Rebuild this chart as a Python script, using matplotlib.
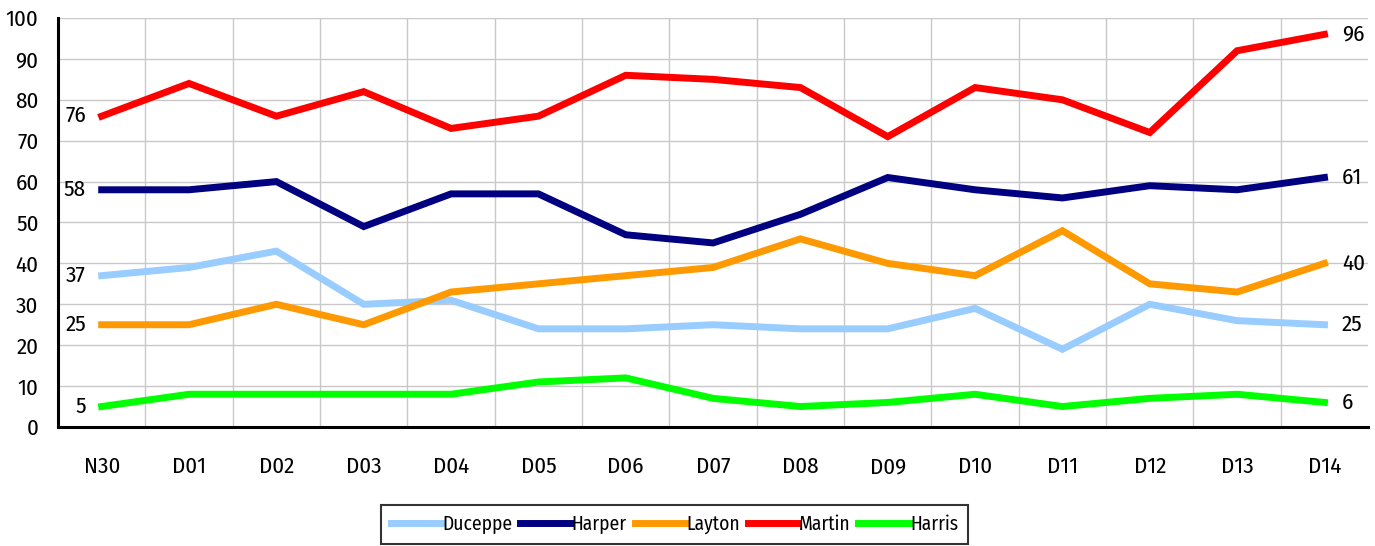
import matplotlib
matplotlib.use("Agg")
import matplotlib.pyplot as plt

plt.rcParams['font.family'] = ['Fira Sans Condensed', 'PT Sans Narrow', 'Archivo Narrow', 'DejaVu Sans']

# Poll dates
dates = ["N30", "D01", "D02", "D03", "D04", "D05", "D06", "D07",
         "D08", "D09", "D10", "D11", "D12", "D13", "D14"]

duceppe = [37, 39, 43, 30, 31, 24, 24, 25, 24, 24, 29, 19, 30, 26, 25]
harper = [58, 58, 60, 49, 57, 57, 47, 45, 52, 61, 58, 56, 59, 58, 61]
layton = [25, 25, 30, 25, 33, 35, 37, 39, 46, 40, 37, 48, 35, 33, 40]
martin = [76, 84, 76, 82, 73, 76, 86, 85, 83, 71, 83, 80, 72, 92, 96]
harris = [5, 8, 8, 8, 8, 11, 12, 7, 5, 6, 8, 5, 7, 8, 6]

series = [
    ("Duceppe", duceppe, "#99CCFF"),
    ("Harper", harper, "#000080"),
    ("Layton", layton, "#FF9900"),
    ("Martin", martin, "#FF0000"),
    ("Harris", harris, "#00FF00"),
]

fig = plt.figure(figsize=(13.75, 5.46), dpi=100)
ax = fig.add_axes([0.0422, 0.218, 0.9528, 0.749])

x = list(range(len(dates)))
for name, vals, color in series:
    ax.plot(x, vals, color=color, lw=5, label=name, solid_joinstyle='miter')
    ax.text(x[0] - 0.18, vals[0], str(vals[0]), ha='right', va='center', fontsize=16.5)
    ax.text(x[-1] + 0.2, vals[-1], str(vals[-1]), ha='left', va='center', fontsize=16.5)

ax.set_xlim(-0.5, len(dates) - 0.5)
ax.set_ylim(0, 100)
ax.set_yticks(range(0, 101, 10))
ax.set_xticks(x)
ax.set_xticklabels(dates)
ax.set_xticks([i + 0.5 for i in range(len(dates) - 1)], minor=True)
ax.tick_params(axis='both', which='both', length=0, labelsize=16.5)
ax.tick_params(axis='x', pad=21)
ax.tick_params(axis='y', pad=14)

ax.grid(True, axis='y', color='#c8c8c8', lw=1)
ax.grid(True, axis='x', which='minor', color='#c8c8c8', lw=1)
ax.grid(False, axis='x', which='major')
ax.set_axisbelow(True)

for s in ['top', 'right']:
    ax.spines[s].set_visible(False)
for s in ['left', 'bottom']:
    ax.spines[s].set_linewidth(2.2)
    ax.spines[s].set_color('black')

leg = fig.legend(loc='lower center', bbox_to_anchor=(0.4905, 0.0), ncol=5, fontsize=14,
                 frameon=True, fancybox=False, handlelength=2.6, handletextpad=0.05,
                 columnspacing=0.4, borderpad=0.5, borderaxespad=0.1)
leg.get_frame().set_edgecolor('black')
leg.get_frame().set_linewidth(1.5)

fig.savefig("out.png", dpi=100)
